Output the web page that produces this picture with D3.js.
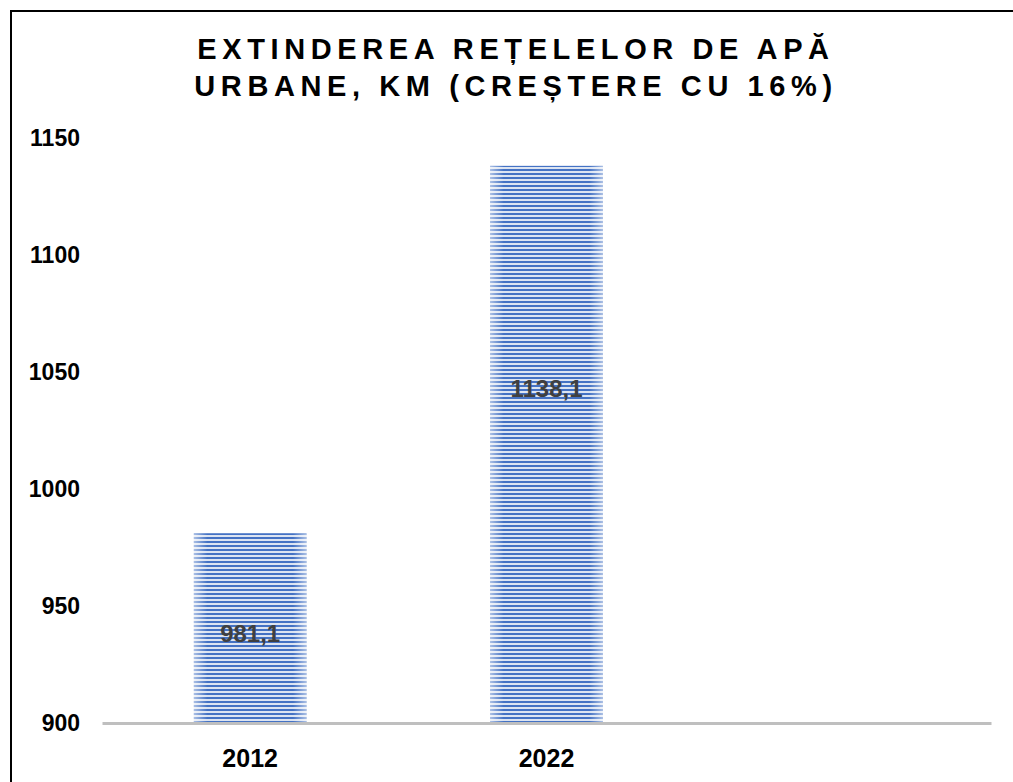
<!DOCTYPE html>
<html>
<head>
<meta charset="utf-8">
<script src="https://cdn.jsdelivr.net/npm/d3@7"></script>
<style>
  body { margin: 0; background: #fff; }
  svg { display: block; font-family: "Liberation Sans", Arial, sans-serif; }
</style>
</head>
<body>
<div id="chart"></div>
<script>
// data
const titleLines = ["EXTINDEREA REȚELELOR DE APĂ", "URBANE, KM (CREȘTERE CU 16%)"];
const categories = ["2012", "2022", ""];
const values = [981.1, 1138.1];
const valueLabels = ["981,1", "1138,1"];
const labelAt = [938, 1043];   // where the labels sit, in axis units
const yTicks = [900, 950, 1000, 1050, 1100, 1150];

const width = 1013, height = 782;

const svg = d3.select("#chart").append("svg")
    .attr("width", width)
    .attr("height", height);

const defs = svg.append("defs");

// striped fill
const pat = defs.append("pattern")
    .attr("id", "stripes")
    .attr("patternUnits", "userSpaceOnUse")
    .attr("width", 8).attr("height", 4);
pat.append("rect").attr("width", 8).attr("height", 4).attr("fill", "#dce4f2");
pat.append("rect").attr("y", 1).attr("width", 8).attr("height", 2).attr("fill", "#4472c4");

// soft light edges on the bars
const edge = defs.append("linearGradient").attr("id", "edge");
[[0, 0.55], [0.12, 0], [0.88, 0], [1, 0.55]].forEach(([o, a]) =>
    edge.append("stop").attr("offset", o).attr("stop-color", "#fff").attr("stop-opacity", a));

// frame
svg.append("rect")
    .attr("x", 11).attr("y", 11)
    .attr("width", width + 10).attr("height", height + 10)
    .attr("fill", "none")
    .attr("stroke", "#000")
    .attr("stroke-width", 2);

const x = d3.scaleBand()
    .domain(categories)
    .range([102, 991])
    .paddingInner(0.62)
    .paddingOuter(0.31);

const y = d3.scaleLinear()
    .domain([900, 1150])
    .range([723, 138]);

// title
svg.append("text")
    .attr("y", 59)
    .attr("text-anchor", "middle")
    .attr("font-size", 29)
    .attr("font-weight", "bold")
    .attr("letter-spacing", 5.6)
    .selectAll("tspan")
    .data(titleLines)
    .join("tspan")
    .attr("x", 516)
    .attr("dy", (d, i) => i ? 37 : 0)
    .text(d => d);

// y axis labels, no line
const yAxis = svg.append("g")
    .attr("transform", "translate(80,0)")
    .call(d3.axisLeft(y).tickValues(yTicks).tickFormat(d3.format("d")).tickSize(0).tickPadding(0));
yAxis.select(".domain").remove();
yAxis.selectAll("text")
    .attr("font-size", 23)
    .attr("font-weight", "bold")
    .attr("fill", "#000")
    .attr("font-family", "Liberation Sans, Arial, sans-serif");

// bars
const bars = svg.append("g").selectAll("g")
    .data(values)
    .join("g");

bars.append("rect")
    .attr("x", (d, i) => x(categories[i]))
    .attr("y", d => y(d))
    .attr("width", x.bandwidth())
    .attr("height", d => y(900) - y(d))
    .attr("fill", "url(#stripes)");

bars.append("rect")
    .attr("x", (d, i) => x(categories[i]))
    .attr("y", d => y(d))
    .attr("width", x.bandwidth())
    .attr("height", d => y(900) - y(d))
    .attr("fill", "url(#edge)");

bars.append("text")
    .attr("x", (d, i) => x(categories[i]) + x.bandwidth() / 2)
    .attr("y", (d, i) => y(labelAt[i]))
    .attr("dy", "0.35em")
    .attr("text-anchor", "middle")
    .attr("font-size", 24)
    .attr("font-weight", "bold")
    .attr("fill", "#404040")
    .text((d, i) => valueLabels[i]);

// x axis
const xAxis = svg.append("g")
    .attr("transform", `translate(0,${y(900)})`)
    .call(d3.axisBottom(x).tickSize(0).tickPadding(26));
xAxis.select(".domain")
    .attr("stroke", "#bfbfbf")
    .attr("stroke-width", 3);
xAxis.selectAll("text")
    .attr("font-size", 25)
    .attr("font-weight", "bold")
    .attr("fill", "#000")
    .attr("font-family", "Liberation Sans, Arial, sans-serif");
</script>
</body>
</html>
